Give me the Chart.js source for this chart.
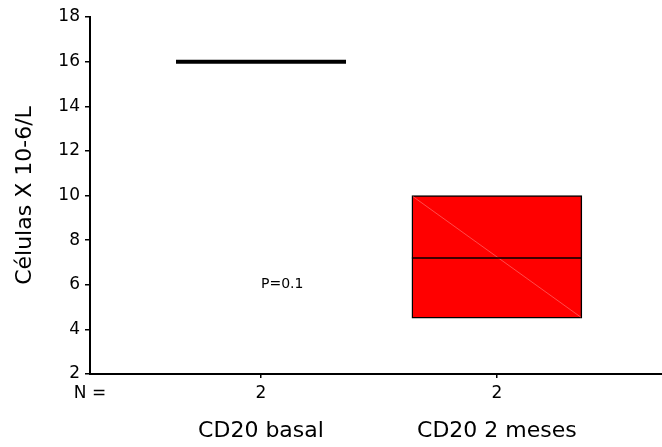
<!DOCTYPE html>
<html>
<head>
<meta charset="utf-8">
<script src="https://cdn.jsdelivr.net/npm/chart.js@4.4.1/dist/chart.umd.min.js"></script>
<style>
  html, body { margin: 0; padding: 0; background: #fff; }
  #wrap { width: 662px; height: 447px; position: relative; }
</style>
</head>
<body>
<div id="wrap"><canvas id="myChart"></canvas></div>
<script>
// data
var groups = ['CD20 basal', 'CD20 2 meses'];
var counts = [2, 2];
var q1 = [16, 4.5];
var q3 = [16, 10];
var medians = [16, 7.2];
var pLabel = { x: 1.09, y: 6, text: 'P=0.1' };

var xMin = 0.275, xMax = 2.7;

Chart.defaults.font.family = "'DejaVu Sans', sans-serif";
Chart.defaults.color = '#000';

var boxData = groups.map((g, i) => ({ x: i + 1, y: [q1[i], q3[i]] }));

// median lines, the odd diagonal of the filled box, and the P label
var boxExtras = {
    id: 'boxExtras',
    afterDatasetsDraw(chart) {
        let ctx = chart.ctx;
        let yS = chart.scales.y;
        let xS = chart.scales.x;
        let meta = chart.getDatasetMeta(0);
        ctx.save();
        meta.data.forEach((bar, i) => {
            let half = bar.width / 2;
            let top = yS.getPixelForValue(q3[i]);
            let bot = yS.getPixelForValue(q1[i]);
            if (q3[i] > q1[i]) {
                ctx.strokeStyle = 'rgba(255,140,140,0.9)';
                ctx.lineWidth = 0.6;
                ctx.beginPath();
                ctx.moveTo(bar.x - half + 1, top + 1);
                ctx.lineTo(bar.x + half - 1, bot - 1);
                ctx.stroke();
            }
            let my = yS.getPixelForValue(medians[i]);
            ctx.strokeStyle = '#000';
            ctx.lineWidth = q3[i] > q1[i] ? 1.5 : 4;
            ctx.beginPath();
            ctx.moveTo(bar.x - half, my);
            ctx.lineTo(bar.x + half, my);
            ctx.stroke();
        });
        ctx.fillStyle = '#000';
        ctx.font = "14px 'DejaVu Sans'";
        ctx.textAlign = 'center';
        ctx.textBaseline = 'middle';
        ctx.fillText(pLabel.text, xS.getPixelForValue(pLabel.x), yS.getPixelForValue(pLabel.y));
        ctx.restore();
    }
};

function init() {
    let data = {
        datasets: [{
            type: 'bar',
            data: boxData,
            backgroundColor: '#ff0000',
            borderColor: '#000',
            borderWidth: 1.5,
            borderSkipped: false,
            barThickness: 170
        }]
    };

    let config = {
        type: 'bar',
        data,
        options: {
            responsive: true,
            maintainAspectRatio: false,
            animation: false,
            layout: { padding: { top: 17, left: 0, right: 0, bottom: 0 } },
            plugins: { legend: { display: false }, tooltip: { enabled: false } },
            scales: {
                x: {
                    type: 'linear',
                    position: 'bottom',
                    min: xMin,
                    max: xMax,
                    offset: false,
                    afterBuildTicks: axis => {
                        axis.ticks = [{ value: xMin }].concat(groups.map((g, i) => ({ value: i + 1 })));
                    },
                    afterFit: axis => { axis.height = 30; },
                    ticks: {
                        font: { size: 17 },
                        padding: 5,
                        autoSkip: false,
                        maxRotation: 0,
                        callback: (v, idx) => idx === 0 ? 'N =' : String(counts[idx - 1])
                    },
                    grid: {
                        offset: false,
                        drawOnChartArea: false,
                        drawTicks: true,
                        tickLength: 4,
                        lineWidth: 1.5,
                        color: c => (c.tick && c.tick.value === xMin) ? 'rgba(0,0,0,0)' : '#000'
                    },
                    border: { display: true, color: '#000', width: 2 }
                },
                x2: {
                    type: 'linear',
                    position: 'bottom',
                    min: xMin,
                    max: xMax,
                    offset: false,
                    afterBuildTicks: axis => {
                        axis.ticks = groups.map((g, i) => ({ value: i + 1 }));
                    },
                    afterFit: axis => { axis.height = 43; },
                    ticks: {
                        font: { size: 22 },
                        padding: 14,
                        autoSkip: false,
                        maxRotation: 0,
                        callback: (v, idx) => groups[idx]
                    },
                    grid: { display: false, drawTicks: false, offset: false },
                    border: { display: false }
                },
                y: {
                    type: 'linear',
                    min: 2,
                    max: 18,
                    afterFit: axis => { axis.width = 90; },
                    ticks: { stepSize: 2, font: { size: 17 }, padding: 5 },
                    grid: {
                        drawOnChartArea: false,
                        drawTicks: true,
                        tickLength: 5,
                        lineWidth: 1.5,
                        color: '#000'
                    },
                    border: { display: true, color: '#000', width: 2 },
                    title: {
                        display: true,
                        text: 'Células X 10-6/L',
                        font: { size: 22 },
                        padding: { top: 12, bottom: 0 }
                    }
                }
            }
        },
        plugins: [boxExtras]
    };

    myChart = new Chart(document.getElementById('myChart'), config);
}

init();
</script>
</body>
</html>
